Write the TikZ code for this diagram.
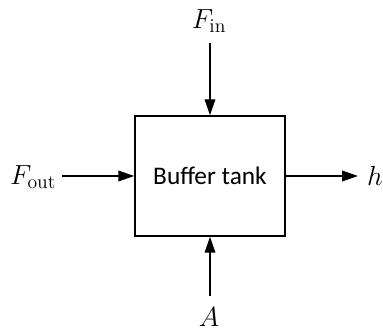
\documentclass[tikz,border=0pt]{standalone}
\usepackage{fontspec}
\newfontfamily\tankfont{Carlito}
\usetikzlibrary{arrows.meta,positioning}
\tikzset{
  >={Triangle[length=12pt,width=8pt]},
  tank/.style={draw, line width=1.1pt, minimum width=112.5pt, minimum height=90pt,
              inner sep=0pt, font=\tankfont\fontsize{19}{23}\selectfont},
  sig/.style={inner sep=0pt, font=\fontsize{21}{25}\selectfont},
  flow/.style={->, line width=1.1pt},
}
\begin{document}
\begin{tikzpicture}[x=0.75pt,y=-0.75pt]
  \useasboundingbox (0,0) rectangle (383,331);
  \node[tank] (tank) at (210,176) {Buffer tank};
  % inputs and outputs
  \node[sig] (fin) at (209,21) {$F_{\mathrm{in}}$};
  \node[sig] (fout) at (33,177) {$F_{\mathrm{out}}$};
  \node[sig] (h) at (375,176) {$h$};
  \node[sig] (A) at (209,317) {$A$};
  \coordinate (finS) at (210,43);
  \coordinate (foutS) at (62,176);
  \coordinate (hE) at (358,176);
  \coordinate (AS) at (210,296);
  \draw[flow] (finS) -- (tank.north);
  \draw[flow] (foutS) -- (tank.west);
  \draw[flow] (tank.east) -- (hE);
  \draw[flow] (AS) -- (tank.south);
\end{tikzpicture}
\end{document}
